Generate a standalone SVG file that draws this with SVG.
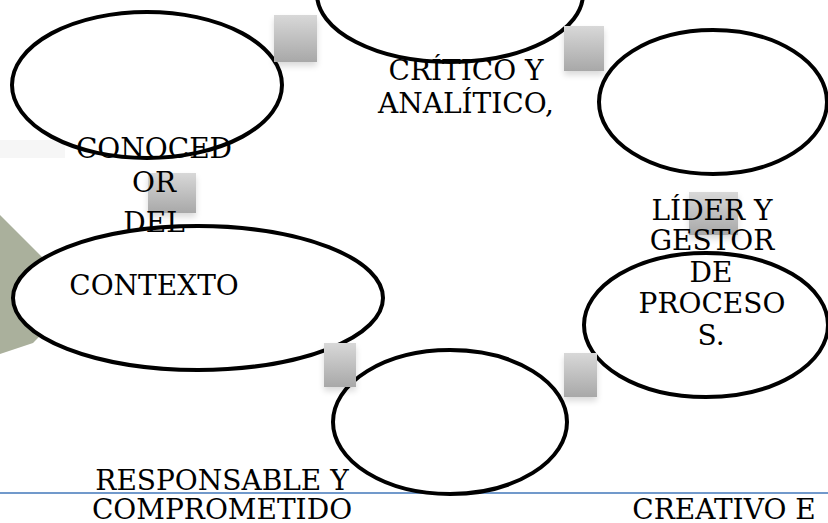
<svg xmlns="http://www.w3.org/2000/svg" width="828" height="523" viewBox="0 0 828 523">
<defs>
<linearGradient id="sq" x1="0" y1="0" x2="0" y2="1">
<stop offset="0" stop-color="#d8d8d8"/>
<stop offset="1" stop-color="#a8a8a8"/>
</linearGradient>
<filter id="sh" x="-30%" y="-30%" width="160%" height="170%">
<feGaussianBlur in="SourceAlpha" stdDeviation="3"/>
<feOffset dy="4"/>
<feComponentTransfer><feFuncA type="linear" slope="0.15"/></feComponentTransfer>
<feMerge><feMergeNode/><feMergeNode in="SourceGraphic"/></feMerge>
</filter>
</defs>
<style>
.e{fill:#ffffff;stroke:#000000;stroke-width:4}
.s{fill:url(#sq);filter:url(#sh)}
.t{font-family:"DejaVu Serif","Liberation Serif",serif;font-size:28px;fill:#000000;text-anchor:middle}
</style>
<rect x="0" y="0" width="828" height="523" fill="#ffffff"/>
<rect x="0" y="140" width="65" height="18" fill="#f6f6f6"/>
<polygon points="0,215 80,295 33,343 0,354" fill="#aab09c"/>
<g id="connectors">
<line x1="0" y1="493" x2="828" y2="493" stroke="#7199cb" stroke-width="2"/>
</g>
<g id="node-conocedor">
<ellipse class="e" cx="147" cy="85" rx="135" ry="73"/>
</g>
<g id="node-critico">
<ellipse class="e" cx="450" cy="-6" rx="133" ry="68"/>
</g>
<g id="node-lider-top">
<ellipse class="e" cx="713" cy="102" rx="114" ry="72"/>
</g>
<g id="node-contexto">
<ellipse class="e" cx="198" cy="298" rx="185" ry="72"/>
</g>
<g id="node-responsable">
<ellipse class="e" cx="450" cy="422" rx="117" ry="72"/>
</g>
<g id="node-procesos">
<ellipse class="e" cx="706" cy="325" rx="122" ry="72"/>
</g>
<g id="squares">
<rect class="s" x="274" y="15" width="43" height="47"/>
<rect class="s" x="564" y="26" width="40" height="45"/>
<rect class="s" x="148" y="173" width="48" height="40"/>
<rect class="s" x="689" y="192" width="49" height="43"/>
<rect class="s" x="324" y="343" width="32" height="44"/>
<rect class="s" x="564" y="353" width="33" height="44"/>
</g>
<g id="labels">
<text class="t" x="466" y="80">CRÍTICO Y</text>
<text class="t" x="466" y="113">ANALÍTICO,</text>
<text class="t" x="154" y="158">CONOCED</text>
<text class="t" x="154" y="192">OR</text>
<text class="t" x="154" y="232">DEL</text>
<text class="t" x="154" y="295">CONTEXTO</text>
<text class="t" x="712" y="220">LÍDER Y</text>
<text class="t" x="712" y="250">GESTOR</text>
<text class="t" x="711" y="282">DE</text>
<text class="t" x="712" y="313">PROCESO</text>
<text class="t" x="711" y="345">S.</text>
<text class="t" x="222" y="490">RESPONSABLE Y</text>
<text class="t" x="222" y="519">COMPROMETIDO</text>
<text class="t" x="724" y="519">CREATIVO E</text>
</g>
</svg>
